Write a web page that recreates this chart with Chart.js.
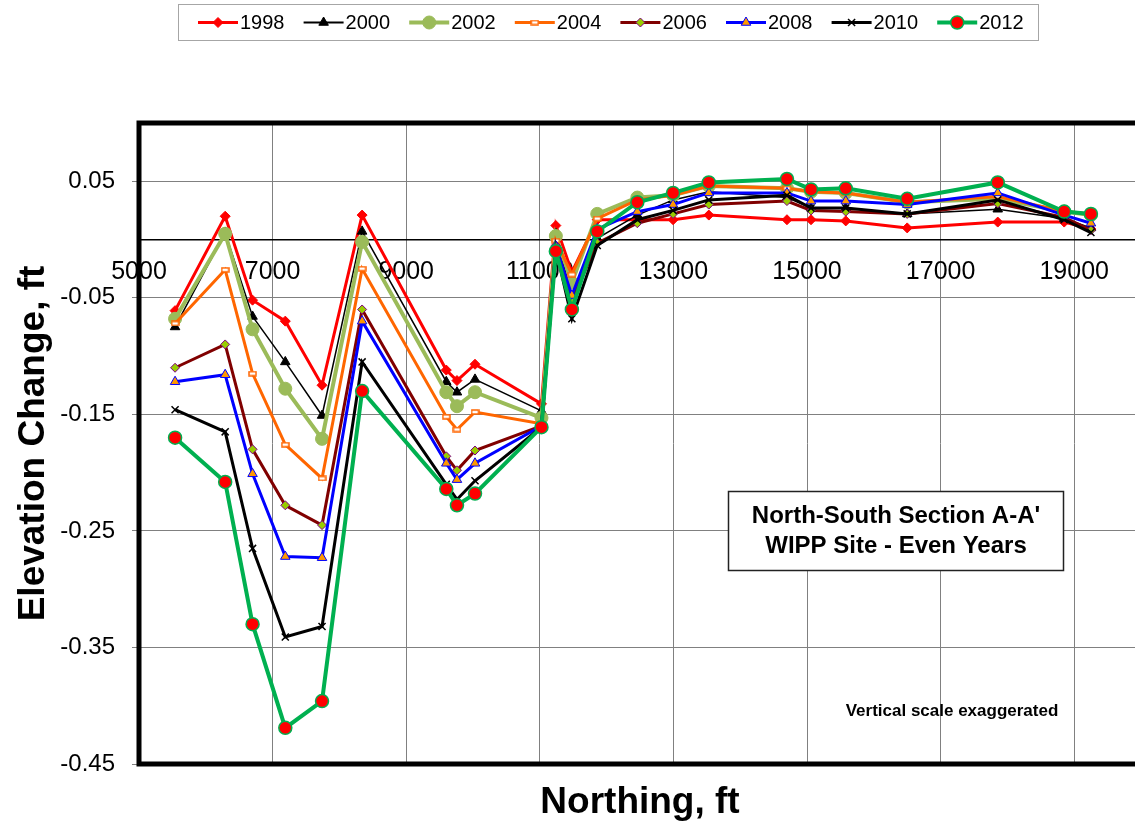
<!DOCTYPE html>
<html>
<head>
<meta charset="utf-8">
<script src="https://cdn.jsdelivr.net/npm/chart.js@4.4.0/dist/chart.umd.min.js"></script>
<style>
  html, body { margin: 0; padding: 0; background: #fff; }
  #wrap { width: 1135px; height: 829px; }
</style>
</head>
<body>
<div id="wrap"><canvas id="chart" width="1135" height="829"></canvas></div>
<script>
// survey stations along the section (northing, ft)
const northing = [5540, 6290, 6700, 7190, 7740, 8340, 9600, 9760, 10030, 11025, 11240, 11480,
                  11860, 12460, 12995, 13530, 14700, 15060, 15580, 16500, 17855, 18850, 19250];

const years = ['1998', '2000', '2002', '2004', '2006', '2008', '2010', '2012'];

const elev1998 = [-0.061, 0.020, -0.052, -0.070, -0.125, 0.021, -0.112, -0.121, -0.107, -0.141, 0.012, -0.028,
                  0.017, 0.017, 0.017, 0.021, 0.017, 0.017, 0.016, 0.010, 0.015, 0.015, 0.009];
const elev2000 = [-0.075, 0.006, -0.066, -0.105, -0.151, 0.007, -0.122, -0.131, -0.120, -0.147, 0.005, -0.050,
                  0.001, 0.021, 0.034, 0.041, 0.036, 0.027, 0.027, 0.022, 0.026, 0.018, 0.010];
const elev2002 = [-0.068, 0.005, -0.077, -0.128, -0.171, -0.002, -0.131, -0.143, -0.131, -0.153, 0.003, -0.037,
                  0.022, 0.036, 0.038, 0.046, 0.044, 0.041, 0.040, 0.032, 0.035, 0.024, 0.021];
const elev2004 = [-0.072, -0.026, -0.115, -0.176, -0.205, -0.025, -0.152, -0.163, -0.148, -0.158, -0.001, -0.030,
                  0.018, 0.034, 0.038, 0.046, 0.044, 0.041, 0.040, 0.032, 0.037, 0.024, 0.022];
const elev2006 = [-0.110, -0.090, -0.180, -0.228, -0.245, -0.060, -0.186, -0.198, -0.181, -0.160, -0.005, -0.052,
                  -0.003, 0.014, 0.022, 0.030, 0.033, 0.025, 0.024, 0.022, 0.031, 0.019, 0.008];
const elev2008 = [-0.122, -0.116, -0.201, -0.272, -0.273, -0.070, -0.192, -0.206, -0.192, -0.160, -0.006, -0.048,
                  0.009, 0.024, 0.030, 0.040, 0.040, 0.033, 0.033, 0.030, 0.040, 0.021, 0.014];
const elev2010 = [-0.146, -0.165, -0.265, -0.341, -0.332, -0.105, -0.210, -0.223, -0.207, -0.161, -0.008, -0.068,
                  -0.005, 0.017, 0.025, 0.034, 0.038, 0.027, 0.027, 0.022, 0.034, 0.017, 0.006];
const elev2012 = [-0.170, -0.208, -0.330, -0.419, -0.396, -0.130, -0.214, -0.228, -0.218, -0.161, -0.010, -0.060,
                  0.007, 0.032, 0.040, 0.049, 0.052, 0.043, 0.044, 0.035, 0.049, 0.024, 0.022];

const xTicks = [5000, 7000, 9000, 11000, 13000, 15000, 17000, 19000];
const yTicks = [-0.45, -0.35, -0.25, -0.15, -0.05, 0.05];

const FONT = 'Arial, "Liberation Sans", sans-serif';

function dashMarker(color) {
    const c = document.createElement('canvas');
    c.width = 9; c.height = 6;
    const g = c.getContext('2d');
    g.fillStyle = '#fff';
    g.fillRect(1, 1, 7, 4);
    g.strokeStyle = color;
    g.lineWidth = 1.5;
    g.strokeRect(1, 1, 7, 4);
    return c;
}

const styles = [
    { color: '#FF0000', width: 3,   point: 'rectRot',  radius: 5,   fill: '#FF0000', edge: '#FF0000', edgeW: 1 },
    { color: '#000000', width: 1.5, point: 'triangle', radius: 5.5, fill: '#000000', edge: '#000000', edgeW: 1 },
    { color: '#9BBB59', width: 4,   point: 'circle',   radius: 6.5, fill: '#9BBB59', edge: '#9BBB59', edgeW: 1 },
    { color: '#FF6600', width: 3,   point: dashMarker('#FF6600'), radius: 4, fill: '#fff', edge: '#FF6600', edgeW: 1 },
    { color: '#800000', width: 3,   point: 'rectRot',  radius: 4.5, fill: '#99CC00', edge: '#800080', edgeW: 1 },
    { color: '#0000FF', width: 3,   point: 'triangle', radius: 5.5, fill: '#FF9900', edge: '#0000FF', edgeW: 1 },
    { color: '#000000', width: 3,   point: 'crossRot', radius: 5,   fill: '#000000', edge: '#000000', edgeW: 1.5 },
    { color: '#00B050', width: 4,   point: 'circle',   radius: 6.5, fill: '#FF0000', edge: '#00B050', edgeW: 1.5 }
];

const series = [elev1998, elev2000, elev2002, elev2004, elev2006, elev2008, elev2010, elev2012];

const datasets = series.map((vals, i) => {
    const s = styles[i];
    return {
        label: years[i],
        data: northing.map((x, j) => ({ x: x, y: vals[j] })),
        borderColor: s.color,
        borderWidth: s.width,
        backgroundColor: s.fill,
        pointStyle: s.point,
        pointRadius: s.radius,
        pointBackgroundColor: s.fill,
        pointBorderColor: s.edge,
        pointBorderWidth: s.edgeW,
        tension: 0,
        order: series.length - i
    };
});

const decor = {
    id: 'decor',
    beforeDraw(chart) {
        const ctx = chart.ctx;
        ctx.save();
        ctx.fillStyle = '#fff';
        ctx.fillRect(0, 0, chart.width, chart.height);
        ctx.restore();
    },
    afterDraw(chart) {
        const ctx = chart.ctx;
        const a = chart.chartArea;
        ctx.save();

        // plot frame (right side falls off the picture)
        ctx.strokeStyle = '#000';
        ctx.lineWidth = 5;
        ctx.beginPath();
        ctx.moveTo(chart.width + 10, a.top);
        ctx.lineTo(a.left, a.top);
        ctx.lineTo(a.left, a.bottom);
        ctx.lineTo(chart.width + 10, a.bottom);
        ctx.stroke();

        // axis titles
        ctx.fillStyle = '#000';
        ctx.textAlign = 'center';
        ctx.textBaseline = 'middle';
        ctx.font = 'bold 37px ' + FONT;
        ctx.fillText('Northing, ft', 640, 803);
        ctx.save();
        ctx.translate(34, (a.top + a.bottom) / 2);
        ctx.rotate(-Math.PI / 2);
        ctx.fillText('Elevation Change, ft', 0, 0);
        ctx.restore();

        // section label box
        ctx.fillStyle = '#fff';
        ctx.fillRect(728.5, 491.5, 335, 79);
        ctx.strokeStyle = '#222';
        ctx.lineWidth = 1.5;
        ctx.strokeRect(728.5, 491.5, 335, 79);
        ctx.fillStyle = '#000';
        ctx.font = 'bold 24px ' + FONT;
        ctx.fillText("North-South Section A-A'", 896, 516);
        ctx.fillText('WIPP Site - Even Years', 896, 546);

        ctx.font = 'bold 17px ' + FONT;
        ctx.fillText('Vertical scale exaggerated', 952, 711);

        // legend
        ctx.fillStyle = '#fff';
        ctx.fillRect(178.5, 4.5, 860, 36);
        ctx.strokeStyle = '#A6A6A6';
        ctx.lineWidth = 1;
        ctx.strokeRect(178.5, 4.5, 860, 36);
        const ly = 22.5;
        chart.data.datasets.forEach((ds, i) => {
            const x0 = 198 + i * 105.6;
            ctx.strokeStyle = ds.borderColor;
            ctx.lineWidth = Math.max(ds.borderWidth, 2);
            ctx.beginPath();
            ctx.moveTo(x0, ly);
            ctx.lineTo(x0 + 40, ly);
            ctx.stroke();
            ctx.fillStyle = ds.pointBackgroundColor;
            ctx.strokeStyle = ds.pointBorderColor;
            ctx.lineWidth = ds.pointBorderWidth;
            Chart.helpers.drawPoint(ctx, {
                pointStyle: ds.pointStyle,
                radius: ds.pointRadius,
                borderWidth: ds.pointBorderWidth,
                rotation: 0
            }, x0 + 20, ly);
            ctx.fillStyle = '#000';
            ctx.textAlign = 'left';
            ctx.font = '20px ' + FONT;
            ctx.fillText(ds.label, x0 + 42, ly + 1);
        });

        ctx.restore();
    }
};

new Chart(document.getElementById('chart'), {
    type: 'line',
    data: { datasets: datasets },
    options: {
        responsive: false,
        animation: false,
        devicePixelRatio: 1,
        layout: { autoPadding: false, padding: { top: 123, bottom: 65, left: 0, right: 0 } },
        plugins: {
            legend: { display: false },
            tooltip: { enabled: false }
        },
        scales: {
            x: {
                type: 'linear',
                min: 5000,
                max: 19910,
                position: { y: 0 },
                afterBuildTicks: s => { s.ticks = xTicks.map(v => ({ value: v })); },
                afterFit: s => { s.paddingLeft = 0; s.paddingRight = 0; },
                grid: { color: '#808080', lineWidth: 1, drawTicks: false },
                border: { display: true, color: '#000', width: 1.5 },
                ticks: {
                    color: '#000',
                    font: { family: FONT, size: 25 },
                    padding: 18,
                    maxRotation: 0,
                    autoSkip: false,
                    callback: v => String(v)
                }
            },
            y: {
                type: 'linear',
                min: -0.45,
                max: 0.10,
                afterBuildTicks: s => { s.ticks = yTicks.map(v => ({ value: v })); },
                afterFit: s => { s.width = 139; s.paddingLeft = 0; s.paddingRight = 0; },
                grid: { color: '#808080', lineWidth: 1, tickLength: 7, tickColor: '#808080' },
                border: { display: false },
                ticks: {
                    color: '#000',
                    font: { family: FONT, size: 24 },
                    padding: 17,
                    callback: v => v.toFixed(2)
                }
            }
        }
    },
    plugins: [decor]
});
</script>
</body>
</html>
